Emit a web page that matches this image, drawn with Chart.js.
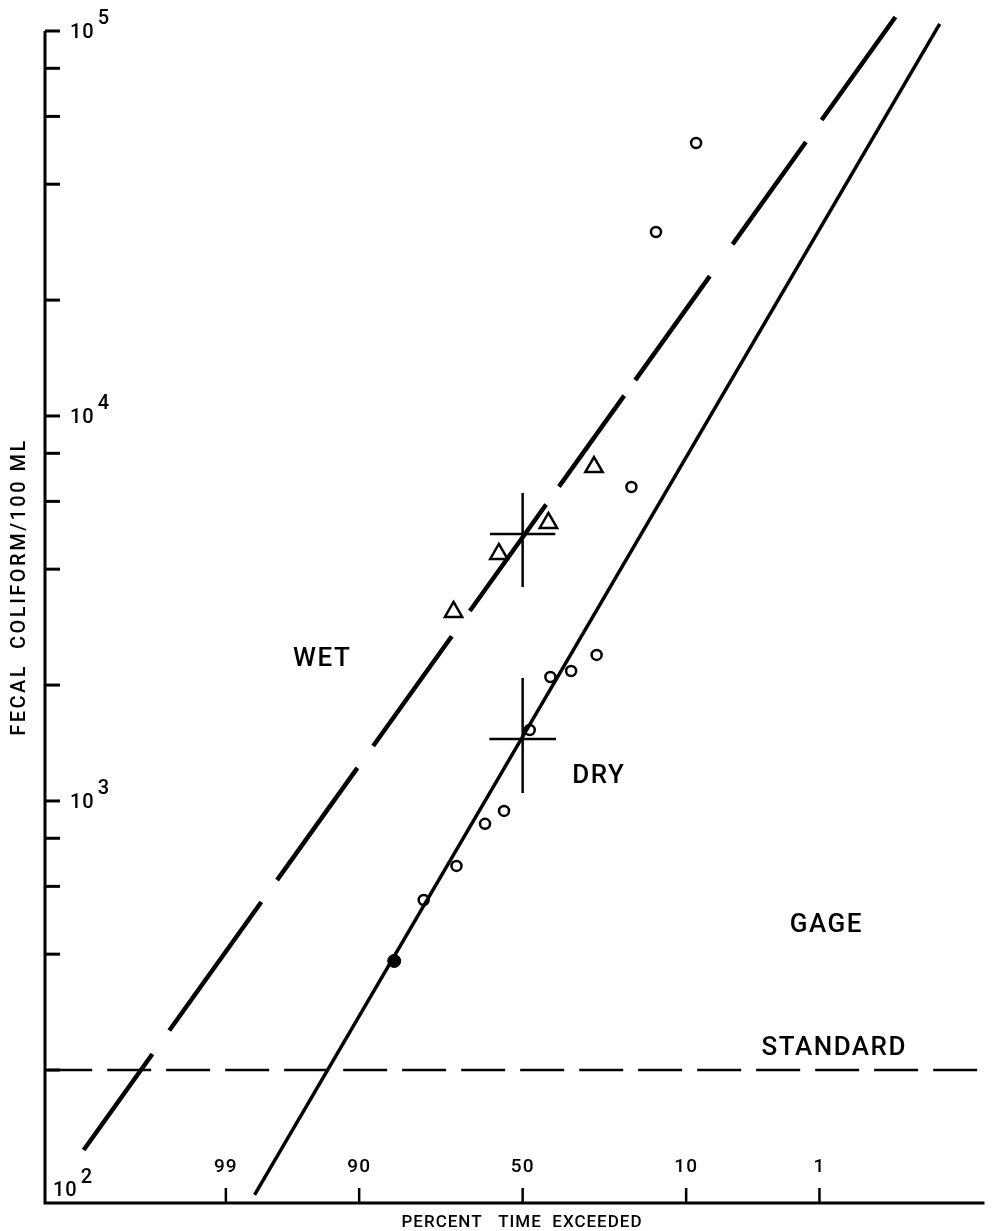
<!DOCTYPE html>
<html><head><meta charset="utf-8">
<script src="https://cdn.jsdelivr.net/npm/chart.js@4.4.1/dist/chart.umd.min.js"></script>
<style>html,body{margin:0;padding:0;background:#fff;}canvas{display:block;}</style>
</head><body>
<canvas id="c" width="997" height="1231"></canvas>
<script>
// ---- data: x = percent time exceeded, y = fecal coliform / 100 mL
const dryPercent = [8.7, 14.8, 19.7, 28.1, 35.2, 41.4, 47.8, 55.8, 61.6, 69.8, 78.1];
const dryValues  = [51190, 30060, 6540, 2395, 2176, 2099, 1529, 942, 872, 678, 553];
const dryFilledPercent = [84.3];
const dryFilledValues  = [384];
const wetPercent = [28.8, 42.0, 57.4, 70.6];
const wetValues  = [7370, 5275, 4381, 3097];
const wetLinePercent = [99.971, 0.174];
const wetLineValues  = [124, 108700];
const dryLinePercent = [98.22, 0.054];
const dryLineValues  = [94.8, 104300];
const wetMeanPercent = [60.1, 50, 39.9];
const wetMeanValues  = [4937, 6310, 3596];
const dryMeanPercent = [60.3, 50, 39.7];
const dryMeanValues  = [1449, 2087, 1049];
const standardPercent = [99.99, 0.01];
const standardValues  = [200, 200];
const xTickLabels = [99, 90, 50, 10, 1];
const yTickValues = [200, 400, 600, 800, 1000, 2000, 4000, 6000, 8000, 10000, 20000, 40000, 60000, 80000, 100000];
const yDecadeLabels = [1000, 10000, 100000];
const textLabels  = ['WET', 'DRY', 'GAGE', 'STANDARD'];
const textPercent = [94.2, 27.5, 0.866, 0.730];
const textValues  = [2324, 1161, 476, 228];
// hand-drawn dash rhythm of the wet-weather line (dash, gap, ...)
const wetDash = [118, 29, 158, 27, 138, 27, 135, 31, 131, 22, 112, 19, 128, 39, 126, 27, 240, 10];

// normal probability transform (percent exceeded -> standard normal deviate)
function invNorm(p) {
  const a=[-3.969683028665376e+01,2.209460984245205e+02,-2.759285104469687e+02,1.383577518672690e+02,-3.066479806614716e+01,2.506628277459239e+00];
  const b=[-5.447609879822406e+01,1.615858368580409e+02,-1.556989798598866e+02,6.680131188771972e+01,-1.328068155288572e+01];
  const c=[-7.784894002430293e-03,-3.223964580411365e-01,-2.400758277161838e+00,-2.549732539343734e+00,4.374664141464968e+00,2.938163982698783e+00];
  const d=[7.784695709041462e-03,3.224671290700398e-01,2.445134137142996e+00,3.754408661907416e+00];
  const pl=0.02425, ph=1-pl; let q,r;
  if (p<pl){q=Math.sqrt(-2*Math.log(p));return (((((c[0]*q+c[1])*q+c[2])*q+c[3])*q+c[4])*q+c[5])/((((d[0]*q+d[1])*q+d[2])*q+d[3])*q+1);}
  if (p<=ph){q=p-0.5;r=q*q;return (((((a[0]*r+a[1])*r+a[2])*r+a[3])*r+a[4])*r+a[5])*q/(((((b[0]*r+b[1])*r+b[2])*r+b[3])*r+b[4])*r+1);}
  q=Math.sqrt(-2*Math.log(1-p));return -(((((c[0]*q+c[1])*q+c[2])*q+c[3])*q+c[4])*q+c[5])/((((d[0]*q+d[1])*q+d[2])*q+d[3])*q+1);
}
const zOf = pct => -invNorm(pct/100);
const pts = (ps, vs) => ps.map((p,i) => ({x: zOf(p), y: vs[i]}));
function crossPts(ps, vs){
  return [{x:zOf(ps[0]),y:vs[0]},{x:zOf(ps[2]),y:vs[0]},{x:zOf(ps[1]),y:null},{x:zOf(ps[1]),y:vs[1]},{x:zOf(ps[1]),y:vs[2]}];
}

const FONT = 'Roboto, "DejaVu Sans", sans-serif';
function spacing(ctx, v){ if ('letterSpacing' in ctx) ctx.letterSpacing = v; }
const paperAxes = {
  id: 'paperAxes',
  afterDraw(chart) {
    const {ctx, chartArea: a, scales: {x, y}} = chart;
    ctx.save();
    ctx.strokeStyle = '#000'; ctx.fillStyle = '#000';
    ctx.lineCap = 'butt';
    // axis lines
    ctx.lineWidth = 3;
    const yTop = y.getPixelForValue(100000);
    ctx.beginPath(); ctx.moveTo(a.left, yTop); ctx.lineTo(a.left, a.bottom); ctx.lineTo(a.right, a.bottom); ctx.stroke();
    // y ticks (inward)
    yTickValues.forEach(v => {
      const py = y.getPixelForValue(v);
      ctx.beginPath(); ctx.moveTo(a.left, py); ctx.lineTo(a.left + 15, py); ctx.stroke();
    });
    // y decade labels
    ctx.textBaseline = 'middle'; ctx.textAlign = 'left';
    spacing(ctx, '1px');
    ctx.font = '500 20px ' + FONT;
    yDecadeLabels.forEach(v => {
      const py = y.getPixelForValue(v);
      const e = Math.round(Math.log10(v));
      ctx.fillText('10', a.left + 25, py + 2);
      const w = ctx.measureText('10').width;
      ctx.fillText(String(e), a.left + 28 + w, py - 12);
    });
    // corner 10^2
    ctx.fillText('10', a.left + 8, a.bottom - 12);
    const w2 = ctx.measureText('10').width;
    ctx.fillText('2', a.left + 11 + w2, a.bottom - 25);
    // x ticks (inward) and labels inside
    ctx.lineWidth = 2.5;
    ctx.textAlign = 'center';
    ctx.font = '500 19px ' + FONT;
    xTickLabels.forEach(p => {
      const px = x.getPixelForValue(zOf(p));
      ctx.beginPath(); ctx.moveTo(px, a.bottom); ctx.lineTo(px, a.bottom - 15); ctx.stroke();
      ctx.fillText(String(p), px, a.bottom - 36);
    });
    // axis titles
    ctx.font = '500 17px ' + FONT;
    spacing(ctx, '1px');
    ctx.fillText('PERCENT   TIME  EXCEEDED', 522, a.bottom + 20);
    ctx.save();
    ctx.translate(20, 587);
    ctx.rotate(-Math.PI / 2);
    ctx.font = '500 20px ' + FONT;
    spacing(ctx, '2.5px');
    ctx.fillText('FECAL  COLIFORM/100 ML', 0, 0);
    ctx.restore();
    // annotations
    ctx.font = '500 26px ' + FONT;
    spacing(ctx, '1.5px');
    textLabels.forEach((t, i) => {
      ctx.fillText(t, x.getPixelForValue(zOf(textPercent[i])), y.getPixelForValue(textValues[i]));
    });
    ctx.restore();
  }
};

new Chart(document.getElementById('c'), {
  type: 'scatter',
  data: {
    datasets: [
      { label: 'wet line', data: pts(wetLinePercent, wetLineValues), showLine: true, borderColor: '#000', borderWidth: 4.5, borderDash: wetDash, pointRadius: 0, clip: false },
      { label: 'dry line', data: pts(dryLinePercent, dryLineValues), showLine: true, borderColor: '#000', borderWidth: 3.5, pointRadius: 0, clip: false },
      { label: 'standard', data: pts(standardPercent, standardValues), showLine: true, borderColor: '#000', borderWidth: 2.5, borderDash: [44, 15], pointRadius: 0 },
      { label: 'wet mean', data: crossPts(wetMeanPercent, wetMeanValues), showLine: true, spanGaps: false, borderColor: '#000', borderWidth: 2.5, pointRadius: 0 },
      { label: 'dry mean', data: crossPts(dryMeanPercent, dryMeanValues), showLine: true, spanGaps: false, borderColor: '#000', borderWidth: 2.5, pointRadius: 0 },
      { label: 'wet', data: pts(wetPercent, wetValues), pointStyle: 'triangle', pointRadius: 10, backgroundColor: '#fff', borderColor: '#000', borderWidth: 2.5 },
      { label: 'dry', data: pts(dryPercent, dryValues), pointStyle: 'circle', pointRadius: 5, backgroundColor: '#fff', borderColor: '#000', borderWidth: 2.5 },
      { label: 'dry filled', data: pts(dryFilledPercent, dryFilledValues), pointStyle: 'circle', pointRadius: 6.5, backgroundColor: '#000', borderColor: '#000', borderWidth: 1 }
    ]
  },
  options: {
    responsive: false, animation: false, devicePixelRatio: 1,
    layout: { padding: { left: 45, top: 31, right: 2, bottom: 28 } },
    plugins: { legend: { display: false }, tooltip: { enabled: false } },
    scales: {
      x: { type: 'linear', display: false, min: -3.744, max: 3.62 },
      y: { type: 'logarithmic', display: false, min: 90.3, max: 100000 }
    }
  },
  plugins: [paperAxes]
});
</script>
</body></html>
